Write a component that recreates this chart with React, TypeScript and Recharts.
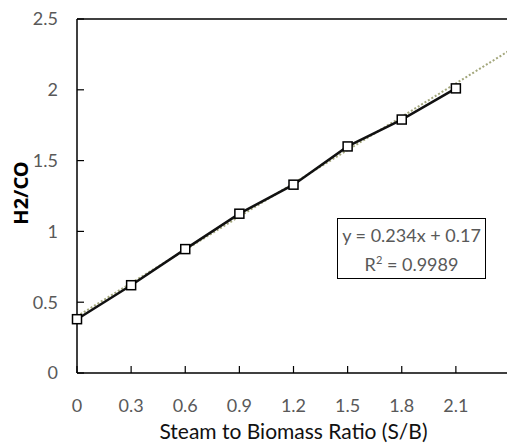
import {
  ComposedChart,
  Line,
  ReferenceLine,
  XAxis,
  YAxis,
} from 'recharts';

const sbRatio = [0, 0.3, 0.6, 0.9, 1.2, 1.5, 1.8, 2.1];
const h2coRatio = [0.38, 0.62, 0.875, 1.125, 1.33, 1.6, 1.79, 2.01];
const trendX = [0, 2.4];
const trendY = [0.4, 2.28];
const xTicks = [0, 0.3, 0.6, 0.9, 1.2, 1.5, 1.8, 2.1];
const yTicks = [0, 0.5, 1, 1.5, 2, 2.5];

interface Row {
  x: number;
  h2co?: number;
  trend?: number;
}

function buildRows(): Row[] {
  const rows: Row[] = sbRatio.map((x, i) => ({ x, h2co: h2coRatio[i] }));
  trendX.forEach((x, i) => {
    const hit = rows.find((r) => r.x === x);
    if (hit) hit.trend = trendY[i];
    else rows.push({ x, trend: trendY[i] });
  });
  return rows.sort((a, b) => a.x - b.x);
}

const TICK_STYLE = {
  fontFamily: 'Lato, sans-serif',
  fontSize: 18,
  fill: '#595959',
} as const;

function SquareDot(props: { cx?: number; cy?: number; index?: number }) {
  const { cx, cy, index } = props;
  if (cx == null || cy == null) return null;
  return (
    <rect
      key={`sq-${index}`}
      x={cx - 4.5}
      y={cy - 4.5}
      width={9}
      height={9}
      fill="#fff"
      stroke="#000"
      strokeWidth={1.5}
    />
  );
}

function YLabel() {
  return (
    <text
      x={20}
      y={193}
      transform="rotate(-90 20 193)"
      textAnchor="middle"
      dominantBaseline="central"
      style={{ fontFamily: '"Noto Sans", sans-serif', fontSize: 20, fontWeight: 700, fill: '#000' }}
    >
      H2/CO
    </text>
  );
}

export default function App() {
  const rows = buildRows();
  return (
    <div
      style={{
        position: 'absolute',
        left: 0,
        top: 0,
        width: 507,
        height: 443,
        overflow: 'hidden',
        background: '#fff',
      }}
    >
      <ComposedChart
        width={520}
        height={443}
        data={rows}
        margin={{ top: 19, right: 10, left: 0, bottom: 0 }}
      >
        <XAxis
          dataKey="x"
          type="number"
          domain={[0, 2.4]}
          ticks={xTicks}
          tick={TICK_STYLE}
          tickSize={-7}
          tickMargin={33}
          height={70}
          axisLine={{ stroke: '#000', strokeWidth: 1.5 }}
          tickLine={{ stroke: '#000', strokeWidth: 1.2 }}
          label={{
            value: 'Steam to Biomass Ratio (S/B)',
            position: 'insideBottom',
            offset: 4,
            style: { fontFamily: 'Lato, sans-serif', fontSize: 21, fill: '#111' },
          }}
        />
        <YAxis
          type="number"
          domain={[0, 2.5]}
          ticks={yTicks}
          tick={TICK_STYLE}
          tickSize={-7}
          tickMargin={26}
          width={77}
          axisLine={{ stroke: '#000', strokeWidth: 1.5 }}
          tickLine={{ stroke: '#000', strokeWidth: 1.2 }}
          label={<YLabel />}
        />
        <ReferenceLine y={2.5} stroke="#000" strokeWidth={1.5} />
        <Line
          dataKey="trend"
          type="linear"
          stroke="#a3a77c"
          strokeWidth={2}
          strokeDasharray="2 2"
          dot={false}
          connectNulls
          isAnimationActive={false}
        />
        <Line
          dataKey="h2co"
          type="linear"
          stroke="#111"
          strokeWidth={2.5}
          dot={<SquareDot />}
          activeDot={false}
          isAnimationActive={false}
        />
      </ComposedChart>
      <div
        style={{
          position: 'absolute',
          left: 337,
          top: 218,
          width: 149,
          height: 61,
          border: '1.5px solid #000',
          background: '#fff',
          fontFamily: 'Lato, sans-serif',
          fontSize: 18,
          color: '#595959',
          textAlign: 'center',
          lineHeight: '29px',
          boxSizing: 'border-box',
          paddingTop: 2,
        }}
      >
        <div>y = 0.234x + 0.17</div>
        <div>
          R<sup style={{ fontSize: 11, lineHeight: 0 }}>2</sup> = 0.9989
        </div>
      </div>
    </div>
  );
}
